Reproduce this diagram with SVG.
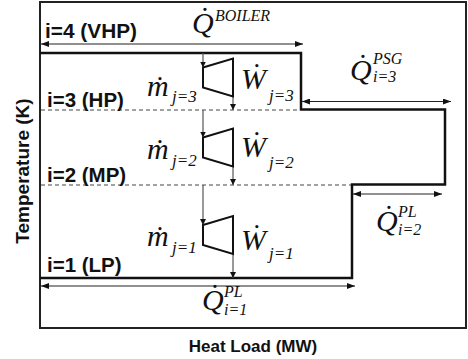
<svg xmlns="http://www.w3.org/2000/svg" width="468" height="359" viewBox="0 0 468 359">
<defs>
<style>
.lbl{font-family:"Liberation Sans",Arial,sans-serif;font-weight:bold;font-size:20.5px;fill:#111}
.ax{font-family:"Liberation Sans",Arial,sans-serif;font-weight:bold;font-size:17px;fill:#111}
.mv{font-family:"Liberation Serif","Times New Roman",serif;font-style:italic;font-size:30px;fill:#111}
.sc{font-family:"Liberation Serif","Times New Roman",serif;font-style:italic;font-size:17px;fill:#111}
.ss{font-family:"Liberation Serif","Times New Roman",serif;font-style:italic;font-size:16px;fill:#111}
.frame{fill:none;stroke:#222;stroke-width:2}
.step{fill:none;stroke:#111;stroke-width:2.5}
.dash{fill:none;stroke:#444;stroke-width:1;stroke-dasharray:4,3}
.arr{fill:none;stroke:#222;stroke-width:1.2;marker-start:url(#ah);marker-end:url(#ah)}
.flow{fill:none;stroke:#555;stroke-width:1.2;marker-end:url(#as)}
.turb{fill:none;stroke:#111;stroke-width:2;stroke-linejoin:miter}
</style>
<marker id="ah" viewBox="0 0 8 6" refX="8" refY="3" markerWidth="8" markerHeight="6" markerUnits="userSpaceOnUse" orient="auto-start-reverse"><path d="M0,0 L8,3 L0,6 z" fill="#111"/></marker>
<marker id="as" viewBox="0 0 6 6" refX="6" refY="3" markerWidth="6" markerHeight="6" markerUnits="userSpaceOnUse" orient="auto"><path d="M0,0 L6,3 L0,6 z" fill="#111"/></marker>
</defs>
<rect class="frame" x="40" y="2" width="426" height="326"/>
<g id="levels">
<polyline class="step" points="40,53 301,53 301,109.5 445,109.5 445,184.5 352,184.5 352,278 40,278"/>
<line class="dash" x1="41" y1="110" x2="300" y2="110"/>
<line class="dash" x1="41" y1="185" x2="351" y2="185"/>
</g>
<g id="level-labels">
<text class="lbl" x="45" y="38" textLength="92" lengthAdjust="spacingAndGlyphs">i=4 (VHP)</text>
<text class="lbl" x="47" y="107">i=3 (HP)</text>
<text class="lbl" x="47" y="182">i=2 (MP)</text>
<text class="lbl" x="47" y="272">i=1 (LP)</text>
</g>
<g id="connectors">
<line class="arr" x1="41" y1="44" x2="303" y2="44"/>
<line class="arr" x1="302" y1="101.5" x2="451" y2="101.5"/>
<line class="arr" x1="353" y1="194" x2="442" y2="194"/>
<line class="arr" x1="41" y1="286" x2="355" y2="286"/>
<line class="flow" x1="203" y1="53" x2="203" y2="67.5"/>
<line class="flow" x1="233" y1="96.5" x2="233" y2="110"/>
<line class="flow" x1="203" y1="110" x2="203" y2="137.5"/>
<line class="flow" x1="233" y1="166.5" x2="233" y2="185"/>
<line class="flow" x1="203" y1="185" x2="203" y2="225"/>
<line class="flow" x1="233" y1="254" x2="233" y2="278"/>
</g>
<g id="turbine3">
<polygon class="turb" points="203,67.5 233,58.5 233,96.5 203,87.5"/>
<text class="mv" x="147" y="96">ṁ</text><text class="sc" x="172" y="102">j=3</text>
<text class="mv" x="241" y="89">Ẇ</text><text class="sc" x="269" y="101">j=3</text>
</g>
<g id="turbine2">
<polygon class="turb" points="203,137.5 233,128.5 233,166.5 203,157.5"/>
<text class="mv" x="147" y="159">ṁ</text><text class="sc" x="172" y="166">j=2</text>
<text class="mv" x="241" y="157">Ẇ</text><text class="sc" x="269" y="168">j=2</text>
</g>
<g id="turbine1">
<polygon class="turb" points="203,225 233,216 233,254 203,245"/>
<text class="mv" x="147" y="246">ṁ</text><text class="sc" x="172" y="253">j=1</text>
<text class="mv" x="241" y="250">Ẇ</text><text class="sc" x="269" y="259">j=1</text>
</g>
<g id="q-boiler">
<text class="mv" x="192" y="33">Q̇</text><text class="ss" x="215" y="21">BOILER</text>
</g>
<g id="q-psg">
<text class="mv" x="350" y="80">Q̇</text><text class="ss" x="373" y="64">PSG</text><text class="ss" x="373" y="82">i=3</text>
</g>
<g id="q-pl2">
<text class="mv" x="376" y="231">Q̇</text><text class="ss" x="398" y="217">PL</text><text class="ss" x="398" y="235">i=2</text>
</g>
<g id="q-pl1">
<text class="mv" x="202" y="310">Q̇</text><text class="ss" x="224" y="297">PL</text><text class="ss" x="224" y="315">i=1</text>
</g>
<g id="axes">
<text class="ax" x="253" y="352" text-anchor="middle">Heat Load (MW)</text>
<text class="ax" transform="translate(29,171) rotate(-90)" text-anchor="middle" style="font-size:19px">Temperature (K)</text>
</g>
</svg>
